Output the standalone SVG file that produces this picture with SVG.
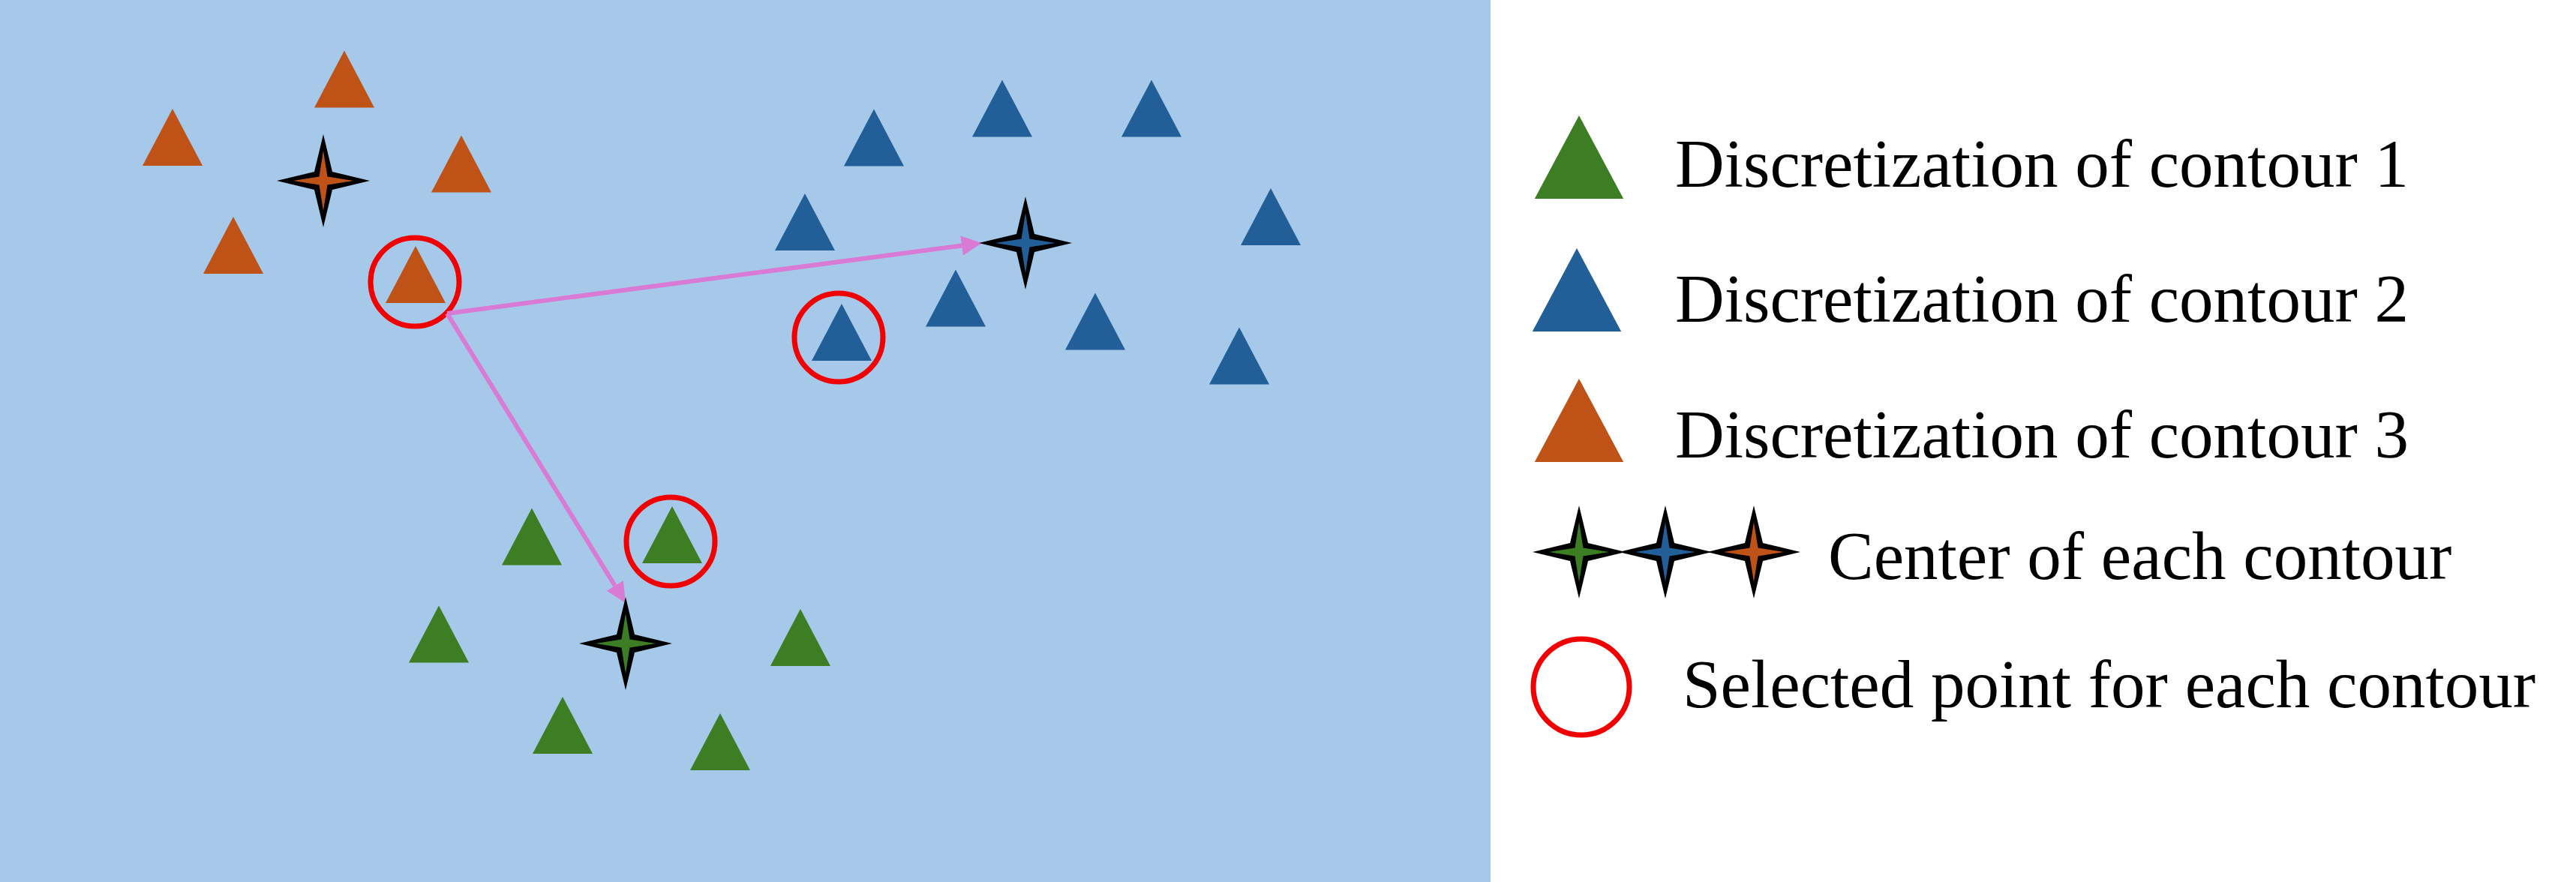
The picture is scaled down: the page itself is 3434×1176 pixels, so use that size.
<svg xmlns="http://www.w3.org/2000/svg" xmlns:xlink="http://www.w3.org/1999/xlink" width="3434" height="1176" viewBox="0 0 3434 1176">
<style>
.c1{fill:#3D7D23}
.c2{fill:#225F99}
.c3{fill:#BF5217}
.blk{fill:#000}
.sel{fill:none;stroke:#F00000;stroke-width:7}
.conn{fill:none;stroke:#D97AD4;stroke-width:6}
.lbl{font-family:"Liberation Serif","Times New Roman",serif;font-size:91px;fill:#000}
</style>
<defs>
<path id="tri" d="M0,-38 L40,38 L-40,38 Z"/>
<path id="starO" d="M0,-62 L12,-12 L62,0 L12,12 L0,62 L-12,12 L-62,0 L-12,-12 Z"/>
<path id="starI" d="M0,-40 L5.5,-5.5 L40,0 L5.5,5.5 L0,40 L-5.5,5.5 L-40,0 L-5.5,-5.5 Z"/>
<marker id="ah" markerUnits="userSpaceOnUse" markerWidth="30" markerHeight="30" refX="0" refY="0" orient="auto" overflow="visible">
<path d="M0,-13 L27,0 L0,13 Z" fill="#D97AD4"/>
</marker>
</defs>
<rect x="0" y="0" width="3434" height="1176" fill="#FFFFFF"/>
<rect x="0" y="0" width="1987" height="1176" fill="#A6C9EA"/>

<g id="contour3">
<use href="#tri" class="c3" x="459" y="105.5"/>
<use href="#tri" class="c3" x="230" y="183"/>
<use href="#tri" class="c3" x="615" y="218.5"/>
<use href="#tri" class="c3" x="311" y="327"/>
<use href="#tri" class="c3" x="554" y="366"/>
</g>
<g id="contour2">
<use href="#tri" class="c2" x="1165" y="183.5"/>
<use href="#tri" class="c2" x="1336" y="144.5"/>
<use href="#tri" class="c2" x="1535" y="144.5"/>
<use href="#tri" class="c2" x="1073" y="296"/>
<use href="#tri" class="c2" x="1694" y="289"/>
<use href="#tri" class="c2" x="1274" y="397.5"/>
<use href="#tri" class="c2" x="1460" y="428.5"/>
<use href="#tri" class="c2" x="1652" y="474.5"/>
<use href="#tri" class="c2" x="1122" y="443"/>
</g>
<g id="contour1">
<use href="#tri" class="c1" x="709" y="715.5"/>
<use href="#tri" class="c1" x="896" y="713"/>
<use href="#tri" class="c1" x="585" y="845.5"/>
<use href="#tri" class="c1" x="1067" y="850"/>
<use href="#tri" class="c1" x="750" y="967"/>
<use href="#tri" class="c1" x="960" y="989"/>
</g>

<g id="selected">
<circle class="sel" cx="553" cy="376" r="59"/>
<circle class="sel" cx="1118" cy="450" r="59"/>
<circle class="sel" cx="894" cy="722" r="59"/>
</g>

<g id="connectors">
<line class="conn" x1="596" y1="418" x2="1282.2" y2="327.5" marker-end="url(#ah)"/>
<line class="conn" x1="596" y1="418" x2="819.8" y2="781" marker-end="url(#ah)"/>
</g>

<g id="center3">
<use href="#starO" class="blk" x="431" y="241"/>
<use href="#starI" class="c3" x="431" y="241"/>
</g>
<g id="center2">
<use href="#starO" class="blk" x="1367" y="324"/>
<use href="#starI" class="c2" x="1367" y="324"/>
</g>
<g id="center1">
<use href="#starO" class="blk" x="834" y="858"/>
<use href="#starI" class="c1" x="834" y="858"/>
</g>

<g id="legend">
<g id="leg1">
<use href="#tri" class="c1" transform="translate(2105,209.5) scale(1.48,1.46)"/>
<text class="lbl" x="2233" y="249">Discretization of contour 1</text>
</g>
<g id="leg2">
<use href="#tri" class="c2" transform="translate(2102,386.5) scale(1.48,1.46)"/>
<text class="lbl" x="2233" y="429">Discretization of contour 2</text>
</g>
<g id="leg3">
<use href="#tri" class="c3" transform="translate(2105,560.5) scale(1.48,1.46)"/>
<text class="lbl" x="2233" y="610">Discretization of contour 3</text>
</g>
<g id="leg4">
<use href="#starO" class="blk" x="2105" y="736"/>
<use href="#starI" class="c1" x="2105" y="736"/>
<use href="#starO" class="blk" x="2220" y="736"/>
<use href="#starI" class="c2" x="2220" y="736"/>
<use href="#starO" class="blk" x="2338" y="736"/>
<use href="#starI" class="c3" x="2338" y="736"/>
<text class="lbl" x="2437" y="772">Center of each contour</text>
</g>
<g id="leg5">
<circle class="sel" cx="2108" cy="916" r="64"/>
<text class="lbl" x="2243" y="943">Selected point for each contour</text>
</g>
</g>
</svg>
